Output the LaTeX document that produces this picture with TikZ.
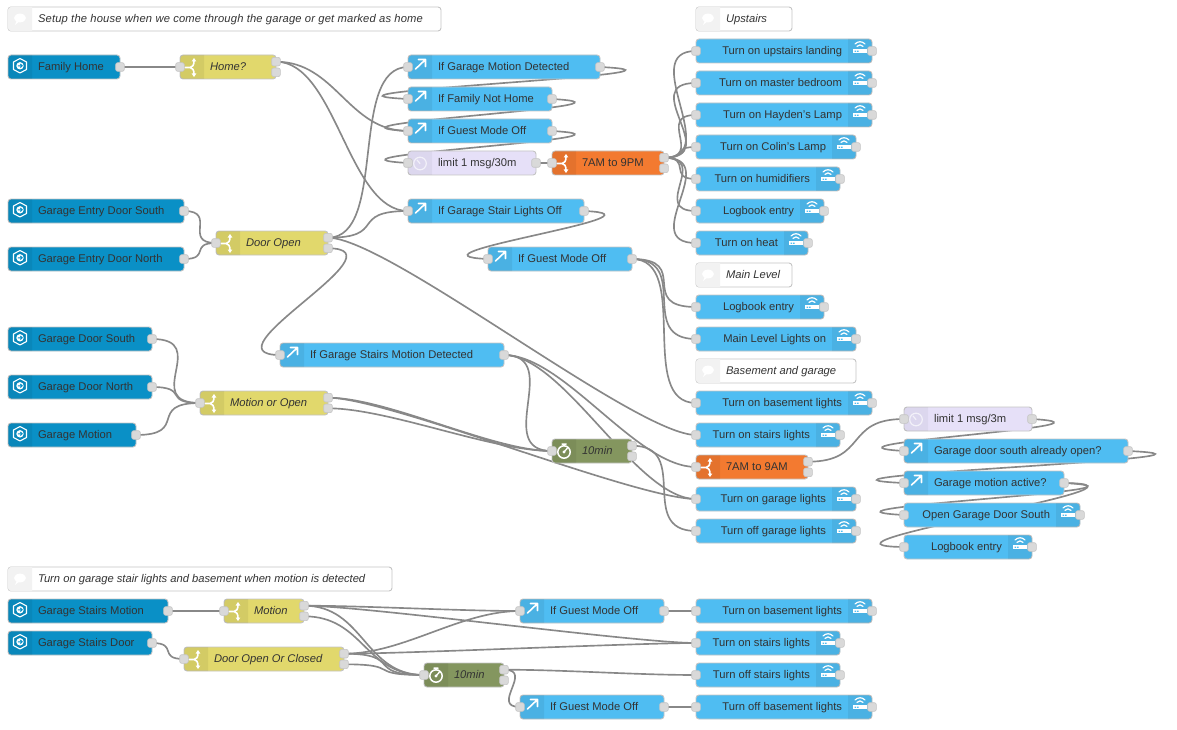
\documentclass[tikz,border=0pt]{standalone}
\usepackage{fontspec}
\setmainfont{Liberation Sans}
\usetikzlibrary{backgrounds}
\definecolor{cinject}{HTML}{0A90C6}
\definecolor{clink}{HTML}{4FBDF2}
\definecolor{cswitch}{HTML}{E1D86C}
\definecolor{crate}{HTML}{E6E0F8}
\definecolor{corange}{HTML}{F37A30}
\definecolor{cgreen}{HTML}{84965F}
\definecolor{cborder}{HTML}{C4C4C4}
\definecolor{cport}{HTML}{D9D9D9}
\definecolor{cwire}{HTML}{888888}
\definecolor{ctext}{HTML}{333333}
\tikzset{
  nrbody/.style={draw=cborder,line width=0.9pt,rounded corners=3pt,anchor=west,minimum height=24pt,inner sep=0pt,outer sep=0pt},
  nrport/.style={draw=cborder,fill=cport,line width=0.6pt,rounded corners=2pt,minimum size=8.6pt,inner sep=0pt,outer sep=0pt},
  nrwire/.style={draw=cwire,line width=1.65pt},
  nrtext/.style={text=ctext,font=\fontsize{11.2}{13}\selectfont,inner sep=0pt,outer sep=0pt},
  nrital/.style={text=ctext,font=\fontsize{11.2}{13}\selectfont\itshape,inner sep=0pt,outer sep=0pt},
  nricon/.style={draw=white,line width=#1,line cap=round,line join=round},
  nricon/.default=1.5pt
}
% strip on left / right of a node body
\newcommand{\stripL}[4]{\fill[#4] (#1+24,#3-12) [rounded corners=3pt] -- (#1,#3-12) -- (#1,#3+12) [sharp corners] -- (#1+24,#3+12) -- cycle;}
\newcommand{\stripR}[2]{\fill[black,opacity=.06] (#1-24,#2-12) [rounded corners=3pt] -- (#1,#2-12) -- (#1,#2+12) [sharp corners] -- (#1-24,#2+12) -- cycle;}
% icons, local origin at node left/right edge centre
\newcommand{\icoinject}{%
  \draw[nricon=1.1pt] (12,-8.5)--(18.5,-5)--(18.5,2.5)--(12,6)--(5.5,2.5)--(5.5,-5)--cycle;
  \fill[white] (12,-1.2) circle (3.7);
  \draw[cinject,line width=1pt] (9.9,-1.2)--(14,-1.2) (12.4,-3)--(14.2,-1.2)--(12.4,0.6);}
\newcommand{\icoswitch}{%
  \draw[nricon=1.6pt] (5,0.5)--(10,0.5) (10,0.5) .. controls (12.5,0.5) and (14,-2) .. (14,-6) (10,0.5) .. controls (12.5,0.5) and (14,3) .. (14,7);
  \fill[white] (11.6,-5.5)--(16.4,-5.5)--(14,-9)--cycle (11.6,6.5)--(16.4,6.5)--(14,10)--cycle;}
\newcommand{\icolink}{\draw[nricon=1.6pt] (7.5,2)--(17,-7) (10.5,-7.5)--(17.5,-7.5)--(17.5,-0.5);}
\newcommand{\icorate}{\begin{scope}[opacity=.65]\draw[nricon=1.2pt] (12,0.5) circle (6.3); \draw[nricon=1.2pt] (12,0.5)--(9,-3);\end{scope}}
\newcommand{\icotrig}{%
  \draw[nricon=1.5pt] (12,1) circle (6.2) (10,-7)--(14,-7) (12,-7)--(12,-5);
  \draw[nricon=1.3pt] (12,1)--(15.5,-3);
  \fill[white] (12,1) circle (1.6);}
\newcommand{\icowifi}{%
  \fill[white] (-19,-2) rectangle (-5,2.2);
  \fill[clink] (-17.5,-0.4) rectangle (-16,0.8) (-15,-0.4) rectangle (-13.5,0.8);
  \draw[nricon=1.2pt] (-17,-7) .. controls (-14,-10) and (-10,-10) .. (-7,-7) (-15,-4.6) .. controls (-13,-6.6) and (-11,-6.6) .. (-9,-4.6);}
% node kinds: name, x1, x2, y, text
\newcommand{\nrbox}[6]{% name,x1,x2,y,fill,strip
  \pgfmathsetmacro\nrw{#3-#2}%
  \node[nrbody,fill=#5,minimum width=\nrw pt] (#1) at (#2,#4) {};
  \stripL{#2}{#3}{#4}{#6}}
\newcommand{\nrin}[3]{\node[nrport] (#1-i) at (#2,#3) {};}
\newcommand{\nrout}[3]{\node[nrport] (#1-o) at (#2,#3) {};}
\newcommand{\nrouts}[3]{\node[nrport] (#1-o) at (#2,#3-5.3) {};\node[nrport] (#1-p) at (#2,#3+5.3) {};}
\newcommand{\nrlabel}[5]{\node[#5,anchor=base west] (#1-t) at (#2+30,#3+3.8) {#4};}
\newcommand{\injectn}[5]{\nrbox{#1}{#2}{#3}{#4}{cinject}{black,opacity=.06}
  \begin{scope}[shift={(#2,#4)}]\icoinject\end{scope}
  \nrlabel{#1}{#2}{#4}{#5}{nrtext}\nrout{#1}{#3}{#4}}
\newcommand{\linkn}[5]{\nrbox{#1}{#2}{#3}{#4}{clink}{black,opacity=.06}
  \begin{scope}[shift={(#2,#4)}]\icolink\end{scope}
  \nrlabel{#1}{#2}{#4}{#5}{nrtext}\nrin{#1}{#2}{#4}\nrout{#1}{#3}{#4}}
\newcommand{\raten}[5]{\nrbox{#1}{#2}{#3}{#4}{crate}{black,opacity=.04}
  \begin{scope}[shift={(#2,#4)}]\icorate\end{scope}
  \nrlabel{#1}{#2}{#4}{#5}{nrtext}\nrin{#1}{#2}{#4}\nrout{#1}{#3}{#4}}
\newcommand{\switchn}[7]{\nrbox{#1}{#2}{#3}{#4}{#5}{black,opacity=.06}
  \begin{scope}[shift={(#2,#4)}]\icoswitch\end{scope}
  \nrlabel{#1}{#2}{#4}{#7}{#6}\nrin{#1}{#2}{#4}\nrouts{#1}{#3}{#4}}
\newcommand{\trign}[5]{\nrbox{#1}{#2}{#3}{#4}{cgreen}{black,opacity=.06}
  \begin{scope}[shift={(#2,#4)}]\icotrig\end{scope}
  \nrlabel{#1}{#2}{#4}{#5}{nrital}\nrin{#1}{#2}{#4}\nrouts{#1}{#3}{#4}}
\newcommand{\svcn}[5]{\pgfmathsetmacro\nrw{#3-#2}%
  \node[nrbody,fill=clink,minimum width=\nrw pt] (#1) at (#2,#4) {};
  \stripR{#3}{#4}
  \begin{scope}[shift={(#3,#4)}]\icowifi\end{scope}
  \node[nrtext,anchor=base east] (#1-t) at (#3-30,#4+3.8) {#5};
  \nrin{#1}{#2}{#4}\nrout{#1}{#3}{#4}}
\newcommand{\commentn}[5]{\nrbox{#1}{#2}{#3}{#4}{white}{black!5}
  \fill[white] (#2+12,#4-1) ellipse [x radius=6,y radius=4.4];
  \fill[white] (#2+7,#4+6)--(#2+9,#4+1)--(#2+12,#4+2)--cycle;
  \nrlabel{#1}{#2}{#4}{#5}{nrital}}
% Node-RED wire geometry (node_width 80, node_height 24 at this zoom)
\newcommand{\wire}[2]{%
  \pgfpointanchor{#1}{center}\pgfgetlastxy{\wxa}{\wya}%
  \pgfpointanchor{#2}{center}\pgfgetlastxy{\wxb}{\wyb}%
  \pgfmathsetmacro\wdx{\wxb-\wxa}%
  \pgfmathsetmacro\wdy{\wyb-\wya}%
  \pgfmathsetmacro\wdl{veclen(\wdx,\wdy)}%
  \pgfmathsetmacro\wsc{\wdl<80?0.75*\wdl/80:0.75}%
  \pgfmathsetmacro\wsc{\wdx<0?\wsc+2*min(400,abs(\wdx))/400:\wsc}%
  \pgfmathsetmacro\wsy{(\wdx<0 && abs(\wdy)<72)?(\wdy>0?0.5:-0.5)*(72-abs(\wdy))/72*min(80,abs(\wdx))/80:0}%
  \pgfmathsetmacro\wca{\wxa+\wsc*80}%
  \pgfmathsetmacro\wcb{\wya+\wsy*24}%
  \pgfmathsetmacro\wcc{\wxb-\wsc*80}%
  \pgfmathsetmacro\wcd{\wyb-\wsy*24}%
  \begin{scope}[on background layer]
    \draw[nrwire] (#1.center) .. controls (\wca pt,\wcb pt) and (\wcc pt,\wcd pt) .. (#2.center);
  \end{scope}}
\begin{document}
\begin{tikzpicture}[x=1pt,y=-1pt]
\useasboundingbox (0,0) rectangle (1177,730);
\begin{scope}[on background layer]\fill[white] (0,0) rectangle (1177,730);\end{scope}
% comments
\commentn{c1}{8}{441}{19}{\addfontfeatures{LetterSpace=1.55}Setup the house when we come through the garage or get marked as home}
\commentn{c2}{696}{792}{19}{Upstairs}
\commentn{c3}{696}{792}{275}{Main Level}
\commentn{c4}{696}{856}{371}{Basement and garage}
\commentn{c5}{8}{392}{579}{Turn on garage stair lights and basement when motion is detected}
% injects
\injectn{fh}{8}{120}{67}{Family Home}
\injectn{ges}{8}{184}{211}{Garage Entry Door South}
\injectn{gen}{8}{184}{259}{Garage Entry Door North}
\injectn{gds}{8}{152}{339}{Garage Door South}
\injectn{gdn}{8}{152}{387}{Garage Door North}
\injectn{gm}{8}{136}{435}{Garage Motion}
\injectn{gsm}{8}{168}{611}{Garage Stairs Motion}
\injectn{gsd}{8}{152}{643}{Garage Stairs Door}
% switches
\switchn{home}{180}{276}{67}{cswitch}{nrital}{Home?}
\switchn{door}{216}{328}{243}{cswitch}{nrital}{Door Open}
\switchn{moo}{200}{328}{403}{cswitch}{nrital}{Motion or Open}
\switchn{mot}{224}{304}{611}{cswitch}{nrital}{Motion}
\switchn{doc}{184}{344}{659}{cswitch}{nrital}{Door Open Or Closed}
\switchn{am9p}{552}{664}{163}{corange}{nrtext}{7AM to 9PM}
\switchn{am9a}{696}{808}{467}{corange}{nrtext}{7AM to 9AM}
% links
\linkn{gmd}{408}{600}{67}{If Garage Motion Detected}
\linkn{fnh}{408}{552}{99}{If Family Not Home}
\linkn{gmo}{408}{552}{131}{If Guest Mode Off}
\raten{lim30}{408}{536}{163}{limit 1 msg/30m}
\linkn{gslo}{408}{584}{211}{If Garage Stair Lights Off}
\linkn{gmo2}{488}{632}{259}{If Guest Mode Off}
\linkn{gsmd}{280}{504}{355}{If Garage Stairs Motion Detected}
\trign{t10}{552}{632}{451}{10min}
\raten{lim3}{904}{1032}{419}{limit 1 msg/3m}
\linkn{gdsa}{904}{1128}{451}{Garage door south already open?}
\linkn{gma}{904}{1064}{483}{Garage motion active?}
\linkn{gmo3}{520}{664}{611}{If Guest Mode Off}
\trign{t10b}{424}{504}{675}{10min}
\linkn{gmo4}{520}{664}{707}{If Guest Mode Off}
% services
\svcn{s1}{696}{872}{51}{Turn on upstairs landing}
\svcn{s2}{696}{872}{83}{Turn on master bedroom}
\svcn{s3}{696}{872}{115}{Turn on Hayden's Lamp}
\svcn{s4}{696}{856}{147}{Turn on Colin's Lamp}
\svcn{s5}{696}{840}{179}{Turn on humidifiers}
\svcn{s6}{696}{824}{211}{Logbook entry}
\svcn{s7}{696}{808}{243}{Turn on heat}
\svcn{s8}{696}{824}{307}{Logbook entry}
\svcn{s9}{696}{856}{339}{Main Level Lights on}
\svcn{s10}{696}{872}{403}{Turn on basement lights}
\svcn{s11}{696}{840}{435}{Turn on stairs lights}
\svcn{s12}{696}{856}{499}{Turn on garage lights}
\svcn{s13}{696}{856}{531}{Turn off garage lights}
\svcn{s14}{904}{1080}{515}{Open Garage Door South}
\svcn{s15}{904}{1032}{547}{Logbook entry}
\svcn{s16}{696}{872}{611}{Turn on basement lights}
\svcn{s17}{696}{840}{643}{Turn on stairs lights}
\svcn{s18}{696}{840}{675}{Turn off stairs lights}
\svcn{s19}{696}{872}{707}{Turn off basement lights}
% wires
\wire{fh-o}{home-i}
\wire{home-o}{gmo-i}
\wire{home-o}{gslo-i}
\wire{ges-o}{door-i}
\wire{gen-o}{door-i}
\wire{door-o}{gmd-i}
\wire{door-o}{gslo-i}
\wire{door-o}{s11-i}
\wire{door-p}{gsmd-i}
\wire{gds-o}{moo-i}
\wire{gdn-o}{moo-i}
\wire{gm-o}{moo-i}
\wire{moo-o}{t10-i}
\wire{moo-o}{s12-i}
\wire{moo-p}{t10-i}
\wire{gmd-o}{fnh-i}
\wire{fnh-o}{gmo-i}
\wire{gmo-o}{lim30-i}
\wire{lim30-o}{am9p-i}
\wire{am9p-o}{s1-i}
\wire{am9p-o}{s2-i}
\wire{am9p-o}{s3-i}
\wire{am9p-o}{s4-i}
\wire{am9p-o}{s5-i}
\wire{am9p-o}{s6-i}
\wire{am9p-o}{s7-i}
\wire{gslo-o}{gmo2-i}
\wire{gmo2-o}{s8-i}
\wire{gmo2-o}{s9-i}
\wire{gmo2-o}{s10-i}
\wire{gsmd-o}{t10-i}
\wire{gsmd-o}{am9a-i}
\wire{gsmd-o}{s12-i}
\wire{t10-o}{s13-i}
\wire{am9a-o}{lim3-i}
\wire{lim3-o}{gdsa-i}
\wire{gdsa-o}{gma-i}
\wire{gma-o}{s14-i}
\wire{gma-o}{s15-i}
\wire{gsm-o}{mot-i}
\wire{gsd-o}{doc-i}
\wire{mot-o}{gmo3-i}
\wire{mot-o}{s17-i}
\wire{mot-o}{t10b-i}
\wire{mot-p}{t10b-i}
\wire{doc-o}{gmo3-i}
\wire{doc-o}{s17-i}
\wire{doc-o}{t10b-i}
\wire{doc-p}{t10b-i}
\wire{gmo3-o}{s16-i}
\wire{t10b-o}{s18-i}
\wire{t10b-o}{gmo4-i}
\wire{gmo4-o}{s19-i}
\end{tikzpicture}
\end{document}
